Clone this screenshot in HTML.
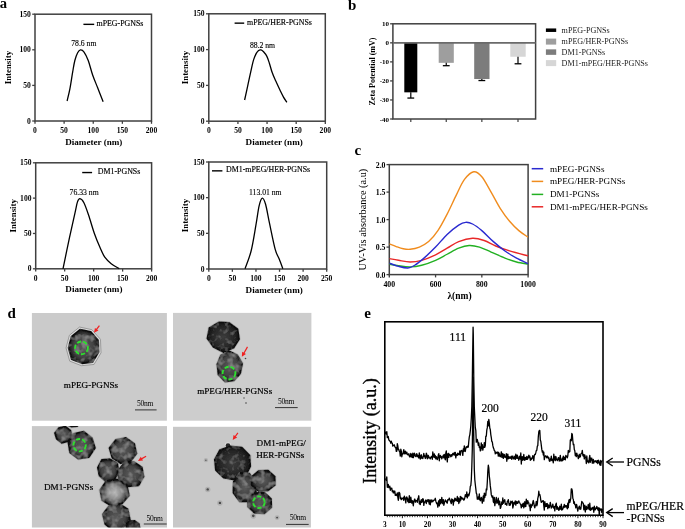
<!DOCTYPE html>
<html><head><meta charset="utf-8"><style>
html,body{margin:0;padding:0;background:#fff;}
svg{display:block;will-change:transform;}
</style></head><body>
<svg width="685" height="529" viewBox="0 0 685 529">
<rect width="685" height="529" fill="#fff"/>
<rect x="35" y="14.2" width="116.50" height="106.80" fill="none" stroke="#404040" stroke-width="1.5"/>
<line x1="32.20" y1="121.00" x2="35.00" y2="121.00" stroke="#404040" stroke-width="1.3"/>
<text x="30.80" y="123.60" font-size="7.6" font-family="'Liberation Serif', serif" font-weight="bold" text-anchor="end" fill="#000">0</text>
<line x1="32.20" y1="85.40" x2="35.00" y2="85.40" stroke="#404040" stroke-width="1.3"/>
<text x="30.80" y="88.00" font-size="7.6" font-family="'Liberation Serif', serif" font-weight="bold" text-anchor="end" fill="#000">50</text>
<line x1="32.20" y1="49.80" x2="35.00" y2="49.80" stroke="#404040" stroke-width="1.3"/>
<text x="30.80" y="52.40" font-size="7.6" font-family="'Liberation Serif', serif" font-weight="bold" text-anchor="end" fill="#000">100</text>
<line x1="32.20" y1="14.20" x2="35.00" y2="14.20" stroke="#404040" stroke-width="1.3"/>
<text x="30.80" y="16.80" font-size="7.6" font-family="'Liberation Serif', serif" font-weight="bold" text-anchor="end" fill="#000">150</text>
<line x1="35.00" y1="121.00" x2="35.00" y2="123.80" stroke="#404040" stroke-width="1.3"/>
<text x="35.00" y="133.00" font-size="7.6" font-family="'Liberation Serif', serif" font-weight="bold" text-anchor="middle" fill="#000">0</text>
<line x1="64.12" y1="121.00" x2="64.12" y2="123.80" stroke="#404040" stroke-width="1.3"/>
<text x="64.12" y="133.00" font-size="7.6" font-family="'Liberation Serif', serif" font-weight="bold" text-anchor="middle" fill="#000">50</text>
<line x1="93.25" y1="121.00" x2="93.25" y2="123.80" stroke="#404040" stroke-width="1.3"/>
<text x="93.25" y="133.00" font-size="7.6" font-family="'Liberation Serif', serif" font-weight="bold" text-anchor="middle" fill="#000">100</text>
<line x1="122.38" y1="121.00" x2="122.38" y2="123.80" stroke="#404040" stroke-width="1.3"/>
<text x="122.38" y="133.00" font-size="7.6" font-family="'Liberation Serif', serif" font-weight="bold" text-anchor="middle" fill="#000">150</text>
<line x1="151.50" y1="121.00" x2="151.50" y2="123.80" stroke="#404040" stroke-width="1.3"/>
<text x="151.50" y="133.00" font-size="7.6" font-family="'Liberation Serif', serif" font-weight="bold" text-anchor="middle" fill="#000">200</text>
<text x="10.90" y="67.60" font-size="8.85" font-family="'Liberation Serif', serif" font-weight="bold" text-anchor="middle" fill="#000" transform="rotate(-90 10.9 67.6)">Intensity</text>
<text x="93.80" y="144.60" font-size="9.1" font-family="'Liberation Serif', serif" font-weight="bold" text-anchor="middle" fill="#000">Diameter (nm)</text>
<path d="M67.10,100.99 C67.56,98.98 68.96,93.74 69.89,88.89 C70.82,84.04 71.86,76.61 72.69,71.87 C73.51,67.14 74.02,63.67 74.84,60.48 C75.67,57.29 76.71,54.49 77.64,52.72 C78.57,50.95 79.37,49.99 80.44,49.87 C81.50,49.75 82.75,50.24 84.05,52.01 C85.35,53.78 86.82,56.69 88.24,60.48 C89.66,64.27 91.00,70.21 92.55,74.72 C94.10,79.23 95.79,83.04 97.56,87.54 C99.33,92.03 102.22,99.34 103.15,101.70" fill="none" stroke="#000" stroke-width="1.3"/>
<line x1="83.40" y1="24.35" x2="94.20" y2="24.35" stroke="#000" stroke-width="1.4"/>
<text x="96.50" y="25.90" font-size="7.9" font-family="'Liberation Serif', serif" text-anchor="start" fill="#000" stroke="#000" stroke-width="0.15">mPEG-PGNSs</text>
<text x="83.80" y="46.30" font-size="7.7" font-family="'Liberation Serif', serif" text-anchor="middle" fill="#000" stroke="#000" stroke-width="0.12">78.6 nm</text>
<rect x="208.8" y="13.8" width="116.50" height="107.40" fill="none" stroke="#404040" stroke-width="1.5"/>
<line x1="206.00" y1="121.20" x2="208.80" y2="121.20" stroke="#404040" stroke-width="1.3"/>
<text x="204.60" y="123.80" font-size="7.6" font-family="'Liberation Serif', serif" font-weight="bold" text-anchor="end" fill="#000">0</text>
<line x1="206.00" y1="85.40" x2="208.80" y2="85.40" stroke="#404040" stroke-width="1.3"/>
<text x="204.60" y="88.00" font-size="7.6" font-family="'Liberation Serif', serif" font-weight="bold" text-anchor="end" fill="#000">50</text>
<line x1="206.00" y1="49.60" x2="208.80" y2="49.60" stroke="#404040" stroke-width="1.3"/>
<text x="204.60" y="52.20" font-size="7.6" font-family="'Liberation Serif', serif" font-weight="bold" text-anchor="end" fill="#000">100</text>
<line x1="206.00" y1="13.80" x2="208.80" y2="13.80" stroke="#404040" stroke-width="1.3"/>
<text x="204.60" y="16.40" font-size="7.6" font-family="'Liberation Serif', serif" font-weight="bold" text-anchor="end" fill="#000">150</text>
<line x1="208.80" y1="121.20" x2="208.80" y2="124.00" stroke="#404040" stroke-width="1.3"/>
<text x="208.80" y="133.20" font-size="7.6" font-family="'Liberation Serif', serif" font-weight="bold" text-anchor="middle" fill="#000">0</text>
<line x1="237.93" y1="121.20" x2="237.93" y2="124.00" stroke="#404040" stroke-width="1.3"/>
<text x="237.93" y="133.20" font-size="7.6" font-family="'Liberation Serif', serif" font-weight="bold" text-anchor="middle" fill="#000">50</text>
<line x1="267.05" y1="121.20" x2="267.05" y2="124.00" stroke="#404040" stroke-width="1.3"/>
<text x="267.05" y="133.20" font-size="7.6" font-family="'Liberation Serif', serif" font-weight="bold" text-anchor="middle" fill="#000">100</text>
<line x1="296.18" y1="121.20" x2="296.18" y2="124.00" stroke="#404040" stroke-width="1.3"/>
<text x="296.18" y="133.20" font-size="7.6" font-family="'Liberation Serif', serif" font-weight="bold" text-anchor="middle" fill="#000">150</text>
<line x1="325.30" y1="121.20" x2="325.30" y2="124.00" stroke="#404040" stroke-width="1.3"/>
<text x="325.30" y="133.20" font-size="7.6" font-family="'Liberation Serif', serif" font-weight="bold" text-anchor="middle" fill="#000">200</text>
<text x="188.40" y="67.50" font-size="8.85" font-family="'Liberation Serif', serif" font-weight="bold" text-anchor="middle" fill="#000" transform="rotate(-90 188.4 67.5)">Intensity</text>
<text x="274.20" y="144.80" font-size="9.1" font-family="'Liberation Serif', serif" font-weight="bold" text-anchor="middle" fill="#000">Diameter (nm)</text>
<path d="M244.62,100.01 C245.21,97.33 246.94,89.37 248.12,83.97 C249.29,78.56 250.75,71.63 251.67,67.57 C252.59,63.51 252.89,61.99 253.65,59.62 C254.42,57.26 255.50,54.89 256.27,53.39 C257.05,51.90 257.53,51.26 258.31,50.67 C259.10,50.09 260.12,49.71 260.99,49.89 C261.87,50.07 262.57,50.67 263.56,51.75 C264.54,52.82 265.90,54.42 266.88,56.33 C267.85,58.24 268.50,60.50 269.38,63.20 C270.26,65.91 271.11,69.60 272.18,72.58 C273.24,75.57 274.42,78.04 275.79,81.10 C277.16,84.17 279.13,88.36 280.39,90.98 C281.65,93.61 282.29,94.96 283.36,96.86 C284.43,98.75 286.22,101.45 286.80,102.37" fill="none" stroke="#000" stroke-width="1.3"/>
<line x1="234.60" y1="23.15" x2="244.20" y2="23.15" stroke="#000" stroke-width="1.4"/>
<text x="247.00" y="24.70" font-size="7.9" font-family="'Liberation Serif', serif" text-anchor="start" fill="#000" stroke="#000" stroke-width="0.15">mPEG/HER-PGNSs</text>
<text x="262.50" y="47.70" font-size="7.7" font-family="'Liberation Serif', serif" text-anchor="middle" fill="#000" stroke="#000" stroke-width="0.12">88.2 nm</text>
<rect x="35.7" y="162.8" width="115.90" height="106.00" fill="none" stroke="#404040" stroke-width="1.5"/>
<line x1="32.90" y1="268.80" x2="35.70" y2="268.80" stroke="#404040" stroke-width="1.3"/>
<text x="31.50" y="271.40" font-size="7.6" font-family="'Liberation Serif', serif" font-weight="bold" text-anchor="end" fill="#000">0</text>
<line x1="32.90" y1="233.47" x2="35.70" y2="233.47" stroke="#404040" stroke-width="1.3"/>
<text x="31.50" y="236.07" font-size="7.6" font-family="'Liberation Serif', serif" font-weight="bold" text-anchor="end" fill="#000">50</text>
<line x1="32.90" y1="198.13" x2="35.70" y2="198.13" stroke="#404040" stroke-width="1.3"/>
<text x="31.50" y="200.73" font-size="7.6" font-family="'Liberation Serif', serif" font-weight="bold" text-anchor="end" fill="#000">100</text>
<line x1="32.90" y1="162.80" x2="35.70" y2="162.80" stroke="#404040" stroke-width="1.3"/>
<text x="31.50" y="165.40" font-size="7.6" font-family="'Liberation Serif', serif" font-weight="bold" text-anchor="end" fill="#000">150</text>
<line x1="35.70" y1="268.80" x2="35.70" y2="271.60" stroke="#404040" stroke-width="1.3"/>
<text x="35.70" y="280.80" font-size="7.6" font-family="'Liberation Serif', serif" font-weight="bold" text-anchor="middle" fill="#000">0</text>
<line x1="64.67" y1="268.80" x2="64.67" y2="271.60" stroke="#404040" stroke-width="1.3"/>
<text x="64.67" y="280.80" font-size="7.6" font-family="'Liberation Serif', serif" font-weight="bold" text-anchor="middle" fill="#000">50</text>
<line x1="93.65" y1="268.80" x2="93.65" y2="271.60" stroke="#404040" stroke-width="1.3"/>
<text x="93.65" y="280.80" font-size="7.6" font-family="'Liberation Serif', serif" font-weight="bold" text-anchor="middle" fill="#000">100</text>
<line x1="122.62" y1="268.80" x2="122.62" y2="271.60" stroke="#404040" stroke-width="1.3"/>
<text x="122.62" y="280.80" font-size="7.6" font-family="'Liberation Serif', serif" font-weight="bold" text-anchor="middle" fill="#000">150</text>
<line x1="151.60" y1="268.80" x2="151.60" y2="271.60" stroke="#404040" stroke-width="1.3"/>
<text x="151.60" y="280.80" font-size="7.6" font-family="'Liberation Serif', serif" font-weight="bold" text-anchor="middle" fill="#000">200</text>
<text x="16.20" y="215.80" font-size="8.85" font-family="'Liberation Serif', serif" font-weight="bold" text-anchor="middle" fill="#000" transform="rotate(-90 16.2 215.8)">Intensity</text>
<text x="93.90" y="292.40" font-size="9.1" font-family="'Liberation Serif', serif" font-weight="bold" text-anchor="middle" fill="#000">Diameter (nm)</text>
<path d="M62.99,268.80 C64.07,263.66 67.41,247.41 69.43,237.99 C71.45,228.57 73.76,218.29 75.11,212.27 C76.45,206.25 76.68,204.15 77.48,201.88 C78.28,199.61 78.84,198.49 79.92,198.63 C80.99,198.77 82.45,199.91 83.91,202.73 C85.38,205.54 87.00,210.44 88.72,215.52 C90.45,220.59 92.40,227.84 94.29,233.18 C96.17,238.53 98.28,243.60 100.02,247.60 C101.77,251.60 102.91,254.53 104.78,257.21 C106.64,259.90 108.80,261.82 111.21,263.71 C113.61,265.61 117.87,267.78 119.21,268.59" fill="none" stroke="#000" stroke-width="1.3"/>
<line x1="82.20" y1="172.55" x2="92.10" y2="172.55" stroke="#000" stroke-width="1.4"/>
<text x="97.80" y="174.10" font-size="7.9" font-family="'Liberation Serif', serif" text-anchor="start" fill="#000" stroke="#000" stroke-width="0.15">DM1-PGNSs</text>
<text x="84.10" y="194.80" font-size="7.7" font-family="'Liberation Serif', serif" text-anchor="middle" fill="#000" stroke="#000" stroke-width="0.12">76.33 nm</text>
<rect x="208.8" y="162" width="117.90" height="107.00" fill="none" stroke="#404040" stroke-width="1.5"/>
<line x1="206.00" y1="269.00" x2="208.80" y2="269.00" stroke="#404040" stroke-width="1.3"/>
<text x="204.60" y="271.60" font-size="7.6" font-family="'Liberation Serif', serif" font-weight="bold" text-anchor="end" fill="#000">0</text>
<line x1="206.00" y1="233.33" x2="208.80" y2="233.33" stroke="#404040" stroke-width="1.3"/>
<text x="204.60" y="235.93" font-size="7.6" font-family="'Liberation Serif', serif" font-weight="bold" text-anchor="end" fill="#000">50</text>
<line x1="206.00" y1="197.67" x2="208.80" y2="197.67" stroke="#404040" stroke-width="1.3"/>
<text x="204.60" y="200.27" font-size="7.6" font-family="'Liberation Serif', serif" font-weight="bold" text-anchor="end" fill="#000">100</text>
<line x1="206.00" y1="162.00" x2="208.80" y2="162.00" stroke="#404040" stroke-width="1.3"/>
<text x="204.60" y="164.60" font-size="7.6" font-family="'Liberation Serif', serif" font-weight="bold" text-anchor="end" fill="#000">150</text>
<line x1="208.80" y1="269.00" x2="208.80" y2="271.80" stroke="#404040" stroke-width="1.3"/>
<text x="208.80" y="281.00" font-size="7.6" font-family="'Liberation Serif', serif" font-weight="bold" text-anchor="middle" fill="#000">0</text>
<line x1="232.38" y1="269.00" x2="232.38" y2="271.80" stroke="#404040" stroke-width="1.3"/>
<text x="232.38" y="281.00" font-size="7.6" font-family="'Liberation Serif', serif" font-weight="bold" text-anchor="middle" fill="#000">50</text>
<line x1="255.96" y1="269.00" x2="255.96" y2="271.80" stroke="#404040" stroke-width="1.3"/>
<text x="255.96" y="281.00" font-size="7.6" font-family="'Liberation Serif', serif" font-weight="bold" text-anchor="middle" fill="#000">100</text>
<line x1="279.54" y1="269.00" x2="279.54" y2="271.80" stroke="#404040" stroke-width="1.3"/>
<text x="279.54" y="281.00" font-size="7.6" font-family="'Liberation Serif', serif" font-weight="bold" text-anchor="middle" fill="#000">150</text>
<line x1="303.12" y1="269.00" x2="303.12" y2="271.80" stroke="#404040" stroke-width="1.3"/>
<text x="303.12" y="281.00" font-size="7.6" font-family="'Liberation Serif', serif" font-weight="bold" text-anchor="middle" fill="#000">200</text>
<line x1="326.70" y1="269.00" x2="326.70" y2="271.80" stroke="#404040" stroke-width="1.3"/>
<text x="326.70" y="281.00" font-size="7.6" font-family="'Liberation Serif', serif" font-weight="bold" text-anchor="middle" fill="#000">250</text>
<text x="188.20" y="215.50" font-size="8.85" font-family="'Liberation Serif', serif" font-weight="bold" text-anchor="middle" fill="#000" transform="rotate(-90 188.2 215.5)">Intensity</text>
<text x="274.20" y="292.60" font-size="9.1" font-family="'Liberation Serif', serif" font-weight="bold" text-anchor="middle" fill="#000">Diameter (nm)</text>
<path d="M245.02,268.79 C246.03,265.83 249.29,258.29 251.10,251.02 C252.92,243.76 254.58,232.73 255.91,225.20 C257.25,217.68 258.06,210.38 259.12,205.87 C260.18,201.36 261.20,198.43 262.28,198.17 C263.36,197.90 264.36,200.06 265.58,204.30 C266.80,208.55 267.99,216.13 269.59,223.63 C271.19,231.13 273.60,243.42 275.20,249.31 C276.80,255.21 277.93,255.77 279.21,259.01 C280.49,262.26 282.28,267.16 282.89,268.79" fill="none" stroke="#000" stroke-width="1.3"/>
<line x1="212.00" y1="170.85" x2="222.40" y2="170.85" stroke="#000" stroke-width="1.4"/>
<text x="226.00" y="172.40" font-size="7.9" font-family="'Liberation Serif', serif" text-anchor="start" fill="#000" stroke="#000" stroke-width="0.15">DM1-mPEG/HER-PGNSs</text>
<text x="265.30" y="195.30" font-size="7.7" font-family="'Liberation Serif', serif" text-anchor="middle" fill="#000" stroke="#000" stroke-width="0.12">113.01 nm</text>
<text x="-0.20" y="7.80" font-size="14.6" font-family="'Liberation Serif', serif" font-weight="bold" text-anchor="start" fill="#000">a</text>
<text x="347.90" y="10.10" font-size="15" font-family="'Liberation Serif', serif" font-weight="bold" text-anchor="start" fill="#000">b</text>
<rect x="392.9" y="23.8" width="142.70" height="95.20" fill="none" stroke="#404040" stroke-width="1.5"/>
<line x1="390.10" y1="23.80" x2="392.90" y2="23.80" stroke="#404040" stroke-width="1.3"/>
<text x="389.10" y="26.30" font-size="7" font-family="'Liberation Serif', serif" font-weight="bold" text-anchor="end" fill="#000">10</text>
<line x1="390.10" y1="42.84" x2="392.90" y2="42.84" stroke="#404040" stroke-width="1.3"/>
<text x="389.10" y="45.34" font-size="7" font-family="'Liberation Serif', serif" font-weight="bold" text-anchor="end" fill="#000">0</text>
<line x1="390.10" y1="61.88" x2="392.90" y2="61.88" stroke="#404040" stroke-width="1.3"/>
<text x="389.10" y="64.38" font-size="7" font-family="'Liberation Serif', serif" font-weight="bold" text-anchor="end" fill="#000">-10</text>
<line x1="390.10" y1="80.92" x2="392.90" y2="80.92" stroke="#404040" stroke-width="1.3"/>
<text x="389.10" y="83.42" font-size="7" font-family="'Liberation Serif', serif" font-weight="bold" text-anchor="end" fill="#000">-20</text>
<line x1="390.10" y1="99.96" x2="392.90" y2="99.96" stroke="#404040" stroke-width="1.3"/>
<text x="389.10" y="102.46" font-size="7" font-family="'Liberation Serif', serif" font-weight="bold" text-anchor="end" fill="#000">-30</text>
<line x1="390.10" y1="119.00" x2="392.90" y2="119.00" stroke="#404040" stroke-width="1.3"/>
<text x="389.10" y="121.50" font-size="7" font-family="'Liberation Serif', serif" font-weight="bold" text-anchor="end" fill="#000">-40</text>
<rect x="404.3" y="42.84" width="13.00" height="49.50" fill="#000"/>
<line x1="410.80" y1="92.34" x2="410.80" y2="98.06" stroke="#000" stroke-width="1.2"/>
<line x1="407.40" y1="98.06" x2="414.20" y2="98.06" stroke="#000" stroke-width="1.3"/>
<line x1="410.80" y1="119.00" x2="410.80" y2="122.00" stroke="#404040" stroke-width="1.2"/>
<rect x="438.7" y="42.84" width="15.10" height="19.99" fill="#9e9e9e"/>
<line x1="446.25" y1="62.83" x2="446.25" y2="65.69" stroke="#000" stroke-width="1.2"/>
<line x1="442.85" y1="65.69" x2="449.65" y2="65.69" stroke="#000" stroke-width="1.3"/>
<line x1="446.25" y1="119.00" x2="446.25" y2="122.00" stroke="#404040" stroke-width="1.2"/>
<rect x="474.2" y="42.84" width="15.30" height="36.18" fill="#7c7c7c"/>
<line x1="481.85" y1="79.02" x2="481.85" y2="80.54" stroke="#000" stroke-width="1.2"/>
<line x1="478.45" y1="80.54" x2="485.25" y2="80.54" stroke="#000" stroke-width="1.3"/>
<line x1="481.85" y1="119.00" x2="481.85" y2="122.00" stroke="#404040" stroke-width="1.2"/>
<rect x="510.3" y="42.84" width="15.40" height="13.90" fill="#d6d6d6"/>
<line x1="518.00" y1="56.74" x2="518.00" y2="63.78" stroke="#000" stroke-width="1.2"/>
<line x1="514.60" y1="63.78" x2="521.40" y2="63.78" stroke="#000" stroke-width="1.3"/>
<line x1="518.00" y1="119.00" x2="518.00" y2="122.00" stroke="#404040" stroke-width="1.2"/>
<line x1="392.90" y1="42.84" x2="535.60" y2="42.84" stroke="#6a6a6a" stroke-width="1.7"/>
<text x="375.00" y="71.50" font-size="8" font-family="'Liberation Serif', serif" font-weight="bold" text-anchor="middle" fill="#000" transform="rotate(-90 375.0 71.5)">Zeta Potential (mV)</text>
<rect x="545.9" y="28.45" width="10.3" height="3.5" fill="#000"/>
<text x="561.60" y="33.00" font-size="8.1" font-family="'Liberation Serif', serif" text-anchor="start" fill="#222">mPEG-PGNSs</text>
<rect x="545.9" y="38.60" width="10.3" height="6" fill="#9e9e9e"/>
<text x="561.60" y="44.40" font-size="8.1" font-family="'Liberation Serif', serif" text-anchor="start" fill="#222">mPEG/HER-PGNSs</text>
<rect x="545.9" y="49.35" width="10.3" height="5.5" fill="#7c7c7c"/>
<text x="561.60" y="54.90" font-size="8.1" font-family="'Liberation Serif', serif" text-anchor="start" fill="#222">DM1-PGNSs</text>
<rect x="545.9" y="60.10" width="10.3" height="6" fill="#d6d6d6"/>
<text x="561.60" y="65.90" font-size="8.1" font-family="'Liberation Serif', serif" text-anchor="start" fill="#222">DM1-mPEG/HER-PGNSs</text>
<text x="354.50" y="155.10" font-size="15" font-family="'Liberation Serif', serif" font-weight="bold" text-anchor="start" fill="#000">c</text>
<rect x="389.3" y="164.6" width="138.80" height="110.00" fill="none" stroke="#404040" stroke-width="1.5"/>
<line x1="386.50" y1="274.60" x2="389.30" y2="274.60" stroke="#404040" stroke-width="1.3"/>
<text x="385.50" y="277.80" font-size="7.8" font-family="'Liberation Serif', serif" font-weight="bold" text-anchor="end" fill="#000">0.0</text>
<line x1="386.50" y1="247.10" x2="389.30" y2="247.10" stroke="#404040" stroke-width="1.3"/>
<text x="385.50" y="250.30" font-size="7.8" font-family="'Liberation Serif', serif" font-weight="bold" text-anchor="end" fill="#000">0.5</text>
<line x1="386.50" y1="219.60" x2="389.30" y2="219.60" stroke="#404040" stroke-width="1.3"/>
<text x="385.50" y="222.80" font-size="7.8" font-family="'Liberation Serif', serif" font-weight="bold" text-anchor="end" fill="#000">1.0</text>
<line x1="386.50" y1="192.10" x2="389.30" y2="192.10" stroke="#404040" stroke-width="1.3"/>
<text x="385.50" y="195.30" font-size="7.8" font-family="'Liberation Serif', serif" font-weight="bold" text-anchor="end" fill="#000">1.5</text>
<line x1="386.50" y1="164.60" x2="389.30" y2="164.60" stroke="#404040" stroke-width="1.3"/>
<text x="385.50" y="167.80" font-size="7.8" font-family="'Liberation Serif', serif" font-weight="bold" text-anchor="end" fill="#000">2.0</text>
<line x1="389.30" y1="274.60" x2="389.30" y2="277.40" stroke="#404040" stroke-width="1.3"/>
<text x="389.30" y="287.00" font-size="7.8" font-family="'Liberation Serif', serif" font-weight="bold" text-anchor="middle" fill="#000">400</text>
<line x1="435.57" y1="274.60" x2="435.57" y2="277.40" stroke="#404040" stroke-width="1.3"/>
<text x="435.57" y="287.00" font-size="7.8" font-family="'Liberation Serif', serif" font-weight="bold" text-anchor="middle" fill="#000">600</text>
<line x1="481.83" y1="274.60" x2="481.83" y2="277.40" stroke="#404040" stroke-width="1.3"/>
<text x="481.83" y="287.00" font-size="7.8" font-family="'Liberation Serif', serif" font-weight="bold" text-anchor="middle" fill="#000">800</text>
<line x1="528.10" y1="274.60" x2="528.10" y2="277.40" stroke="#404040" stroke-width="1.3"/>
<text x="528.10" y="287.00" font-size="7.8" font-family="'Liberation Serif', serif" font-weight="bold" text-anchor="middle" fill="#000">1000</text>
<text x="366.00" y="219.60" font-size="10.3" font-family="'Liberation Serif', serif" text-anchor="middle" fill="#000" transform="rotate(-90 366 219.6)">UV-Vis absorbance (a.u)</text>
<text x="459.50" y="299.00" font-size="9.5" font-family="'Liberation Serif', serif" font-weight="bold" text-anchor="middle" fill="#000"><tspan font-weight="bold">λ</tspan>(nm)</text>
<clipPath id="cc"><rect x="389.3" y="164.6" width="138.8" height="110.00000000000003"/></clipPath>
<path d="M389.30,264.15 C390.84,264.43 395.08,265.34 398.55,265.80 C402.02,266.26 406.26,266.99 410.12,266.90 C413.98,266.81 417.45,266.35 421.69,265.25 C425.93,264.15 431.33,262.13 435.57,260.30 C439.81,258.47 443.28,256.27 447.13,254.25 C450.99,252.23 455.04,249.67 458.70,248.20 C462.36,246.73 465.64,245.63 469.11,245.45 C472.58,245.27 475.86,246.00 479.52,247.10 C483.18,248.20 486.85,250.22 491.09,252.05 C495.33,253.88 500.73,256.45 504.97,258.10 C509.21,259.75 512.68,260.94 516.53,261.95 C520.39,262.96 526.17,263.78 528.10,264.15" fill="none" stroke="#22b022" stroke-width="1.4" clip-path="url(#cc)"/>
<path d="M389.30,258.65 C390.84,258.93 395.08,259.75 398.55,260.30 C402.02,260.85 406.26,261.95 410.12,261.95 C413.98,261.95 417.45,261.49 421.69,260.30 C425.93,259.11 431.33,256.82 435.57,254.80 C439.81,252.78 443.28,250.40 447.13,248.20 C450.99,246.00 454.46,243.25 458.70,241.60 C462.94,239.95 468.34,238.48 472.58,238.30 C476.82,238.12 480.29,239.22 484.15,240.50 C488.00,241.78 491.47,244.26 495.71,246.00 C499.95,247.74 504.20,249.30 509.59,250.95 C514.99,252.60 525.02,255.08 528.10,255.90" fill="none" stroke="#e82828" stroke-width="1.4" clip-path="url(#cc)"/>
<path d="M389.30,263.05 C390.84,263.60 395.47,265.53 398.55,266.35 C401.64,267.18 405.11,268.18 407.81,268.00 C410.51,267.82 412.05,266.90 414.75,265.25 C417.45,263.60 420.53,261.12 424.00,258.10 C427.47,255.08 431.71,251.04 435.57,247.10 C439.42,243.16 443.28,238.12 447.13,234.45 C450.99,230.78 455.62,227.12 458.70,225.10 C461.78,223.08 463.33,222.53 465.64,222.35 C467.95,222.17 469.88,222.62 472.58,224.00 C475.28,225.38 478.36,227.67 481.83,230.60 C485.30,233.53 489.54,238.21 493.40,241.60 C497.26,244.99 501.11,248.20 504.97,250.95 C508.82,253.70 512.68,255.99 516.53,258.10 C520.39,260.21 526.17,262.68 528.10,263.60" fill="none" stroke="#2a2ad0" stroke-width="1.4" clip-path="url(#cc)"/>
<path d="M389.30,243.80 C390.46,244.26 393.93,245.73 396.24,246.55 C398.55,247.38 400.87,248.29 403.18,248.75 C405.49,249.21 407.42,249.58 410.12,249.30 C412.82,249.03 416.29,248.38 419.37,247.10 C422.46,245.82 425.54,244.35 428.63,241.60 C431.71,238.85 434.80,235.18 437.88,230.60 C440.96,226.02 444.05,220.06 447.13,214.10 C450.22,208.14 453.50,200.63 456.39,194.85 C459.28,189.08 461.59,183.30 464.48,179.45 C467.38,175.60 470.85,172.21 473.74,171.75 C476.63,171.29 478.94,173.31 481.83,176.70 C484.73,180.09 488.00,186.78 491.09,192.10 C494.17,197.42 497.26,203.74 500.34,208.60 C503.42,213.46 506.51,217.58 509.59,221.25 C512.68,224.92 515.76,227.94 518.85,230.60 C521.93,233.26 526.56,236.10 528.10,237.20" fill="none" stroke="#f08c1e" stroke-width="1.4" clip-path="url(#cc)"/>
<line x1="531.70" y1="168.70" x2="543.20" y2="168.70" stroke="#2a2ad0" stroke-width="1.5"/>
<text x="549.90" y="171.70" font-size="9.2" font-family="'Liberation Serif', serif" text-anchor="start" fill="#000">mPEG-PGNSs</text>
<line x1="531.70" y1="181.40" x2="543.20" y2="181.40" stroke="#f08c1e" stroke-width="1.5"/>
<text x="549.90" y="184.40" font-size="9.2" font-family="'Liberation Serif', serif" text-anchor="start" fill="#000">mPEG/HER-PGNSs</text>
<line x1="531.70" y1="194.40" x2="543.20" y2="194.40" stroke="#22b022" stroke-width="1.5"/>
<text x="549.90" y="197.40" font-size="9.2" font-family="'Liberation Serif', serif" text-anchor="start" fill="#000">DM1-PGNSs</text>
<line x1="531.70" y1="206.80" x2="543.20" y2="206.80" stroke="#e82828" stroke-width="1.5"/>
<text x="549.90" y="209.80" font-size="9.2" font-family="'Liberation Serif', serif" text-anchor="start" fill="#000">DM1-mPEG/HER-PGNSs</text>
<text x="7.60" y="317.90" font-size="15" font-family="'Liberation Serif', serif" font-weight="bold" text-anchor="start" fill="#000">d</text>
<filter id="bgn" x="0" y="0" width="1" height="1"><feTurbulence type="fractalNoise" baseFrequency="0.6" numOctaves="1" seed="5"/><feColorMatrix type="matrix" values="0 0 0 0 0  0 0 0 0 0  0 0 0 0 0  0.12 0 0 0 -0.03"/><feComposite in2="SourceAlpha" operator="in"/><feMerge><feMergeNode in="SourceGraphic"/><feMergeNode/></feMerge></filter>
<clipPath id="ti0"><rect x="31.9" y="313.0" width="135.00" height="107.70"/></clipPath>
<rect x="31.9" y="313.0" width="135.00" height="107.70" fill="#cbcbcb"/>
<clipPath id="ti1"><rect x="173.0" y="312.9" width="138.40" height="107.80"/></clipPath>
<rect x="173.0" y="312.9" width="138.40" height="107.80" fill="#cdcdcd"/>
<clipPath id="ti2"><rect x="31.9" y="426.1" width="135.10" height="101.40"/></clipPath>
<rect x="31.9" y="426.1" width="135.10" height="101.40" fill="#c8c8c8"/>
<clipPath id="ti3"><rect x="173.0" y="426.8" width="137.90" height="100.70"/></clipPath>
<rect x="173.0" y="426.8" width="137.90" height="100.70" fill="#c8c8c8"/>
<filter id="mot" x="-10%" y="-10%" width="120%" height="120%"><feTurbulence type="fractalNoise" baseFrequency="0.17" numOctaves="2" seed="11" result="n"/><feColorMatrix in="n" type="matrix" values="0 0 0 0 1  0 0 0 0 1  0 0 0 0 1  0.45 0 0 0 -0.2" result="w"/><feComposite in="w" in2="SourceAlpha" operator="in" result="wm"/><feMerge><feMergeNode in="SourceGraphic"/><feMergeNode in="wm"/></feMerge></filter>
<filter id="mot2" x="-10%" y="-10%" width="120%" height="120%"><feTurbulence type="fractalNoise" baseFrequency="0.2" numOctaves="2" seed="21" result="n"/><feColorMatrix in="n" type="matrix" values="0 0 0 0 1  0 0 0 0 1  0 0 0 0 1  0.3 0 0 0 -0.15" result="w"/><feComposite in="w" in2="SourceAlpha" operator="in" result="wm"/><feMerge><feMergeNode in="SourceGraphic"/><feMergeNode in="wm"/></feMerge></filter>
<radialGradient id="pg" cx="50%" cy="50%" r="50%"><stop offset="0" stop-color="#3c3c3c"/><stop offset="0.7" stop-color="#262626"/><stop offset="1" stop-color="#141414"/></radialGradient>
<radialGradient id="pg2" cx="50%" cy="50%" r="50%"><stop offset="0" stop-color="#b8b8b8"/><stop offset="0.5" stop-color="#8c8c8c"/><stop offset="0.8" stop-color="#4a4a4a"/><stop offset="1" stop-color="#1a1a1a"/></radialGradient>
<radialGradient id="pg3" cx="50%" cy="50%" r="50%"><stop offset="0" stop-color="#5a5a5a"/><stop offset="0.65" stop-color="#434343"/><stop offset="0.86" stop-color="#2a2a2a"/><stop offset="1" stop-color="#141414"/></radialGradient>
<path d="M101.02,352.83 L94.04,364.45 L81.53,365.71 L69.71,361.11 L66.03,347.94 L69.41,335.20 L79.53,327.04 L91.88,329.67 L100.48,339.32 Z" fill="#dadada" stroke="#8c8c8c" stroke-width="0.8" stroke-linejoin="round" clip-path="url(#ti0)"/>
<g clip-path="url(#ti0)"><path d="M98.53,352.06 L92.55,362.15 L81.84,363.24 L71.72,359.25 L68.57,347.82 L71.47,336.76 L80.13,329.67 L90.71,331.96 L98.07,340.33 Z" fill="url(#pg3)" stroke="#111" stroke-width="1.8" stroke-linejoin="round" filter="url(#mot)"/></g>
<circle cx="81.5" cy="347.9" r="6.4" fill="none" stroke="#2ee02e" stroke-width="1.9" stroke-dasharray="4.2 2"/>
<line x1="99.40" y1="325.60" x2="95.80" y2="330.40" stroke="#f02020" stroke-width="1.2"/>
<path d="M94.00,332.80 L98.46,330.52 L94.94,327.88 Z" fill="#f02020"/>
<text x="91.00" y="387.70" font-size="9.15" font-family="'Liberation Serif', serif" text-anchor="middle" fill="#000" stroke="#000" stroke-width="0.2">mPEG-PGNSs</text>
<text x="145.00" y="405.50" font-size="7.5" font-family="'Liberation Serif', serif" text-anchor="middle" fill="#000" letter-spacing="-0.3">50nm</text>
<line x1="135.00" y1="409.90" x2="156.60" y2="409.90" stroke="#333" stroke-width="1.0"/>
<path d="M240.28,339.37 L234.30,348.74 L223.23,353.42 L212.78,347.86 L206.15,338.68 L208.29,327.31 L218.38,321.24 L229.70,321.80 L238.59,328.56 Z" fill="#dadada" stroke="#a5a5a5" stroke-width="0.6" stroke-linejoin="round" clip-path="url(#ti1)"/>
<path d="M241.18,374.23 L234.36,381.65 L224.79,382.80 L217.35,375.31 L216.12,364.21 L220.21,354.22 L229.07,350.04 L237.85,354.08 L243.45,363.26 Z" fill="#dadada" stroke="#a5a5a5" stroke-width="0.6" stroke-linejoin="round" clip-path="url(#ti1)"/>
<g clip-path="url(#ti1)"><path d="M239.05,339.12 L233.51,347.75 L223.27,352.06 L213.59,346.94 L207.46,338.49 L209.44,328.01 L218.77,322.42 L229.26,322.93 L237.48,329.17 Z" fill="url(#pg)" stroke="#111" stroke-width="1.8" stroke-linejoin="round" filter="url(#mot2)"/></g>
<g clip-path="url(#ti1)"><path d="M240.08,373.63 L233.90,380.47 L225.22,381.53 L218.47,374.63 L217.35,364.39 L221.07,355.19 L229.10,351.34 L237.06,355.06 L242.14,363.52 Z" fill="url(#pg3)" stroke="#111" stroke-width="1.8" stroke-linejoin="round" filter="url(#mot)"/></g>
<circle cx="229" cy="373.1" r="6.4" fill="none" stroke="#2ee02e" stroke-width="1.9" stroke-dasharray="4.2 2"/>
<line x1="247.50" y1="346.90" x2="243.30" y2="354.20" stroke="#f02020" stroke-width="1.2"/>
<path d="M241.80,356.80 L245.95,354.00 L242.14,351.80 Z" fill="#f02020"/>
<text x="234.70" y="394.40" font-size="9.15" font-family="'Liberation Serif', serif" text-anchor="middle" fill="#000" stroke="#000" stroke-width="0.2">mPEG/HER-PGNSs</text>
<text x="286.00" y="403.80" font-size="7.5" font-family="'Liberation Serif', serif" text-anchor="middle" fill="#000" letter-spacing="-0.3">50nm</text>
<line x1="275.00" y1="407.60" x2="297.70" y2="407.60" stroke="#333" stroke-width="1.0"/>
<circle cx="245.5" cy="358.5" r="0.8" fill="#444"/>
<circle cx="244" cy="398" r="0.7" fill="#444"/>
<circle cx="246" cy="403" r="0.8" fill="#444"/>
<path d="M81.69,422.86 L77.82,427.12 L71.34,427.84 L65.80,425.19 L64.25,420.13 L68.42,416.16 L74.83,414.54 L80.65,417.58 Z" fill="#dadada" stroke="#a5a5a5" stroke-width="0.6" stroke-linejoin="round" clip-path="url(#ti2)"/>
<path d="M73.72,436.52 L68.98,442.28 L61.42,444.13 L55.66,439.43 L53.67,432.75 L58.11,427.05 L65.54,425.26 L71.43,429.72 Z" fill="#dadada" stroke="#a5a5a5" stroke-width="0.6" stroke-linejoin="round" clip-path="url(#ti2)"/>
<path d="M96.24,448.21 L89.64,458.15 L78.13,459.93 L69.00,453.23 L67.28,442.26 L72.98,432.69 L84.03,430.46 L92.84,437.21 Z" fill="#dadada" stroke="#a5a5a5" stroke-width="0.6" stroke-linejoin="round" clip-path="url(#ti2)"/>
<path d="M137.67,453.63 L131.22,462.41 L120.45,464.50 L111.31,458.53 L108.15,447.81 L115.10,438.78 L126.26,436.59 L135.22,443.11 Z" fill="#dadada" stroke="#a5a5a5" stroke-width="0.6" stroke-linejoin="round" clip-path="url(#ti2)"/>
<path d="M119.84,472.38 L114.89,480.98 L105.56,482.76 L98.41,476.64 L96.62,467.32 L101.13,458.65 L110.22,458.00 L118.30,462.45 Z" fill="#dadada" stroke="#a5a5a5" stroke-width="0.6" stroke-linejoin="round" clip-path="url(#ti2)"/>
<path d="M144.82,476.92 L139.38,486.55 L128.08,487.62 L118.40,482.20 L116.06,471.30 L122.99,462.68 L133.76,460.58 L142.80,466.58 Z" fill="#dadada" stroke="#a5a5a5" stroke-width="0.6" stroke-linejoin="round" clip-path="url(#ti2)"/>
<path d="M130.16,495.81 L122.69,504.58 L111.30,507.19 L101.14,501.08 L98.92,489.84 L105.47,480.11 L117.59,477.97 L127.88,484.39 Z" fill="#dadada" stroke="#a5a5a5" stroke-width="0.6" stroke-linejoin="round" clip-path="url(#ti2)"/>
<path d="M131.20,520.08 L123.84,528.82 L112.96,531.97 L104.26,524.78 L101.57,514.08 L108.23,505.28 L118.99,502.27 L128.75,508.54 Z" fill="#dadada" stroke="#a5a5a5" stroke-width="0.6" stroke-linejoin="round" clip-path="url(#ti2)"/>
<path d="M140.96,529.11 L137.70,534.58 L131.29,535.93 L126.32,531.93 L125.02,525.88 L128.06,520.05 L134.60,519.60 L139.77,523.01 Z" fill="#dadada" stroke="#a5a5a5" stroke-width="0.6" stroke-linejoin="round" clip-path="url(#ti2)"/>
<g clip-path="url(#ti2)"><path d="M80.41,422.60 L77.11,426.05 L71.58,426.63 L66.86,424.48 L65.54,420.39 L69.09,417.18 L74.56,415.87 L79.52,418.33 Z" fill="url(#pg)" stroke="#111" stroke-width="1.8" stroke-linejoin="round" filter="url(#mot2)"/></g>
<g clip-path="url(#ti2)"><path d="M72.38,436.25 L68.26,441.19 L61.69,442.79 L56.69,438.75 L54.96,433.01 L58.82,428.11 L65.27,426.58 L70.39,430.41 Z" fill="url(#pg3)" stroke="#111" stroke-width="1.8" stroke-linejoin="round" filter="url(#mot)"/></g>
<g clip-path="url(#ti2)"><path d="M94.92,447.94 L88.89,457.03 L78.39,458.65 L70.06,452.53 L68.48,442.51 L73.69,433.76 L83.77,431.72 L91.82,437.89 Z" fill="url(#pg3)" stroke="#111" stroke-width="1.8" stroke-linejoin="round" filter="url(#mot)"/></g>
<g clip-path="url(#ti2)"><path d="M136.39,453.37 L130.51,461.35 L120.70,463.24 L112.38,457.82 L109.50,448.09 L115.83,439.88 L126.00,437.89 L134.16,443.82 Z" fill="url(#pg3)" stroke="#111" stroke-width="1.8" stroke-linejoin="round" filter="url(#mot)"/></g>
<g clip-path="url(#ti2)"><path d="M118.54,472.12 L114.14,479.84 L105.82,481.44 L99.46,475.94 L97.86,467.57 L101.88,459.79 L109.98,459.20 L117.18,463.20 Z" fill="url(#pg3)" stroke="#111" stroke-width="1.8" stroke-linejoin="round" filter="url(#mot)"/></g>
<g clip-path="url(#ti2)"><path d="M143.57,476.67 L138.62,485.40 L128.33,486.38 L119.52,481.46 L117.39,471.56 L123.70,463.75 L133.50,461.85 L141.73,467.29 Z" fill="url(#pg3)" stroke="#111" stroke-width="1.8" stroke-linejoin="round" filter="url(#mot)"/></g>
<g clip-path="url(#ti2)"><path d="M128.83,495.54 L121.99,503.52 L111.56,505.90 L102.26,500.34 L100.22,490.11 L106.22,481.25 L117.32,479.30 L126.74,485.14 Z" fill="url(#pg2)" stroke="#111" stroke-width="1.8" stroke-linejoin="round" filter="url(#mot)"/></g>
<g clip-path="url(#ti2)"><path d="M129.85,519.81 L123.14,527.78 L113.23,530.65 L105.30,524.09 L102.85,514.33 L108.92,506.32 L118.72,503.57 L127.63,509.29 Z" fill="url(#pg3)" stroke="#111" stroke-width="1.8" stroke-linejoin="round" filter="url(#mot)"/></g>
<g clip-path="url(#ti2)"><path d="M139.74,528.87 L136.98,533.50 L131.55,534.64 L127.34,531.25 L126.24,526.13 L128.82,521.19 L134.36,520.81 L138.73,523.70 Z" fill="url(#pg)" stroke="#111" stroke-width="1.8" stroke-linejoin="round" filter="url(#mot2)"/></g>
<circle cx="79.6" cy="445.2" r="6.2" fill="none" stroke="#2ee02e" stroke-width="1.9" stroke-dasharray="4.2 2"/>
<line x1="146.10" y1="456.20" x2="140.59" y2="459.39" stroke="#f02020" stroke-width="1.2"/>
<path d="M138.00,460.90 L143.00,460.54 L140.79,456.74 Z" fill="#f02020"/>
<text x="68.60" y="490.00" font-size="9.15" font-family="'Liberation Serif', serif" text-anchor="middle" fill="#000" stroke="#000" stroke-width="0.2">DM1-PGNSs</text>
<text x="154.50" y="520.60" font-size="7.5" font-family="'Liberation Serif', serif" text-anchor="middle" fill="#000" letter-spacing="-0.3">50nm</text>
<line x1="143.80" y1="524.00" x2="166.70" y2="524.00" stroke="#333" stroke-width="1.0"/>
<circle cx="207.7" cy="489.4" r="2.74" fill="#b0b0b0"/><circle cx="207.7" cy="489.4" r="1.2000000000000002" fill="#4a4a4a"/>
<circle cx="219.9" cy="502.9" r="2.74" fill="#b0b0b0"/><circle cx="219.9" cy="502.9" r="1.2000000000000002" fill="#4a4a4a"/>
<circle cx="253.3" cy="515.8" r="2.92" fill="#b0b0b0"/><circle cx="253.3" cy="515.8" r="1.35" fill="#4a4a4a"/>
<circle cx="277.1" cy="517.6" r="2.47" fill="#b0b0b0"/><circle cx="277.1" cy="517.6" r="0.9750000000000001" fill="#4a4a4a"/>
<circle cx="205.9" cy="460.2" r="2.1100000000000003" fill="#b0b0b0"/><circle cx="205.9" cy="460.2" r="0.675" fill="#4a4a4a"/>
<circle cx="228" cy="445.5" r="3.3" fill="#d9d9d9"/>
<path d="M251.47,466.61 L246.24,477.06 L234.70,480.98 L223.03,478.75 L214.77,470.60 L213.56,459.39 L219.02,449.21 L230.32,445.12 L242.46,446.45 L250.87,455.12 Z" fill="#dadada" stroke="#a5a5a5" stroke-width="0.6" stroke-linejoin="round" clip-path="url(#ti3)"/>
<path d="M257.19,493.70 L249.62,502.65 L239.02,502.49 L232.28,493.11 L232.58,481.20 L239.14,471.61 L249.68,472.20 L256.20,481.45 Z" fill="#dadada" stroke="#a5a5a5" stroke-width="0.6" stroke-linejoin="round" clip-path="url(#ti3)"/>
<path d="M276.05,485.63 L268.27,491.77 L257.98,492.08 L250.44,485.47 L250.78,476.06 L258.24,469.63 L268.66,469.46 L275.99,476.19 Z" fill="#dadada" stroke="#a5a5a5" stroke-width="0.6" stroke-linejoin="round" clip-path="url(#ti3)"/>
<path d="M272.54,507.84 L264.83,514.66 L254.03,514.06 L247.02,507.38 L246.41,498.22 L254.32,492.09 L264.97,491.52 L272.17,498.48 Z" fill="#dadada" stroke="#a5a5a5" stroke-width="0.6" stroke-linejoin="round" clip-path="url(#ti3)"/>
<circle cx="228" cy="445.5" r="2.3" fill="#262626"/>
<g clip-path="url(#ti3)"><path d="M250.22,466.36 L245.33,476.07 L234.55,479.72 L223.65,477.64 L215.94,470.07 L214.81,459.65 L219.91,450.18 L230.46,446.37 L241.80,447.61 L249.66,455.68 Z" fill="url(#pg)" stroke="#111" stroke-width="1.8" stroke-linejoin="round" filter="url(#mot2)"/></g>
<g clip-path="url(#ti3)"><path d="M255.95,493.17 L249.11,501.40 L239.54,501.26 L233.46,492.63 L233.73,481.68 L239.65,472.87 L249.17,473.41 L255.05,481.91 Z" fill="url(#pg3)" stroke="#111" stroke-width="1.8" stroke-linejoin="round" filter="url(#mot)"/></g>
<g clip-path="url(#ti3)"><path d="M274.81,485.10 L267.79,490.58 L258.49,490.86 L251.68,484.97 L252.00,476.57 L258.73,470.84 L268.14,470.69 L274.75,476.69 Z" fill="url(#pg3)" stroke="#111" stroke-width="1.8" stroke-linejoin="round" filter="url(#mot)"/></g>
<g clip-path="url(#ti3)"><path d="M271.32,507.33 L264.33,513.42 L254.53,512.88 L248.17,506.91 L247.62,498.72 L254.79,493.26 L264.45,492.74 L270.99,498.97 Z" fill="url(#pg3)" stroke="#111" stroke-width="1.8" stroke-linejoin="round" filter="url(#mot)"/></g>
<circle cx="258.9" cy="502.2" r="5.8" fill="none" stroke="#2ee02e" stroke-width="1.9" stroke-dasharray="4.2 2"/>
<line x1="237.90" y1="432.80" x2="234.47" y2="437.48" stroke="#f02020" stroke-width="1.2"/>
<path d="M232.70,439.90 L237.13,437.57 L233.58,434.97 Z" fill="#f02020"/>
<text x="281.20" y="445.70" font-size="9.15" font-family="'Liberation Serif', serif" text-anchor="middle" fill="#000" stroke="#000" stroke-width="0.2">DM1-mPEG/</text>
<text x="280.30" y="458.00" font-size="9.15" font-family="'Liberation Serif', serif" text-anchor="middle" fill="#000" stroke="#000" stroke-width="0.2">HER-PGNSs</text>
<text x="297.80" y="519.60" font-size="7.5" font-family="'Liberation Serif', serif" text-anchor="middle" fill="#000" letter-spacing="-0.3">50nm</text>
<line x1="286.00" y1="524.40" x2="308.70" y2="524.40" stroke="#333" stroke-width="1.0"/>
<text x="364.20" y="317.80" font-size="15" font-family="'Liberation Serif', serif" font-weight="bold" text-anchor="start" fill="#000">e</text>
<path d="M385.30,431.54 L385.80,433.88 L386.30,434.03 L386.80,431.61 L387.30,437.58 L387.80,437.63 L388.30,436.48 L388.80,439.90 L389.30,440.34 L389.80,441.05 L390.30,441.29 L390.80,443.22 L391.30,441.14 L391.80,443.11 L392.30,443.09 L392.80,446.11 L393.30,445.49 L393.80,445.34 L394.30,444.82 L394.80,446.50 L395.30,447.59 L395.80,447.44 L396.30,451.35 L396.80,451.15 L397.30,443.62 L397.80,445.58 L398.30,449.72 L398.80,449.53 L399.30,451.26 L399.80,451.59 L400.30,456.07 L400.80,449.26 L401.30,451.15 L401.80,456.73 L402.30,453.91 L402.80,454.18 L403.30,451.82 L403.80,449.54 L404.30,453.73 L404.80,453.80 L405.30,451.04 L405.80,452.42 L406.30,453.93 L406.80,452.16 L407.30,454.18 L407.80,454.74 L408.30,454.75 L408.80,453.69 L409.30,456.23 L409.80,457.00 L410.30,455.85 L410.80,453.45 L411.30,456.96 L411.80,454.35 L412.30,457.47 L412.80,453.27 L413.30,457.72 L413.80,455.74 L414.30,453.11 L414.80,455.23 L415.30,456.11 L415.80,456.65 L416.30,453.95 L416.80,453.73 L417.30,456.66 L417.80,455.24 L418.30,456.84 L418.80,458.04 L419.30,452.78 L419.80,457.01 L420.30,459.18 L420.80,455.87 L421.30,454.77 L421.80,458.24 L422.30,457.18 L422.80,458.62 L423.30,455.91 L423.80,453.44 L424.30,456.48 L424.80,455.76 L425.30,458.47 L425.80,457.21 L426.30,453.22 L426.80,454.19 L427.30,458.78 L427.80,458.35 L428.30,455.46 L428.80,456.87 L429.30,457.87 L429.80,457.93 L430.30,458.84 L430.80,457.48 L431.30,456.72 L431.80,456.36 L432.30,459.26 L432.80,451.99 L433.30,456.64 L433.80,457.02 L434.30,453.82 L434.80,457.69 L435.30,455.52 L435.80,458.85 L436.30,456.68 L436.80,458.42 L437.30,459.63 L437.80,457.79 L438.30,455.02 L438.80,453.61 L439.30,460.79 L439.80,456.68 L440.30,455.41 L440.80,457.23 L441.30,456.48 L441.80,458.77 L442.30,456.96 L442.80,456.87 L443.30,455.21 L443.80,457.75 L444.30,454.38 L444.80,458.06 L445.30,459.88 L445.80,453.10 L446.30,450.96 L446.80,457.68 L447.30,461.85 L447.80,453.97 L448.30,453.35 L448.80,457.32 L449.30,454.10 L449.80,454.76 L450.30,455.02 L450.80,456.88 L451.30,454.73 L451.80,456.14 L452.30,455.05 L452.80,453.49 L453.30,454.54 L453.80,453.06 L454.30,455.06 L454.80,452.46 L455.30,452.41 L455.80,457.90 L456.30,454.45 L456.80,454.32 L457.30,455.43 L457.80,453.23 L458.30,453.49 L458.80,454.76 L459.30,454.27 L459.80,450.90 L460.30,455.08 L460.80,451.72 L461.30,450.45 L461.80,450.52 L462.30,451.35 L462.80,455.45 L463.30,448.92 L463.80,451.45 L464.30,445.92 L464.80,450.09 L465.30,451.46 L465.80,448.26 L466.30,446.57 L466.80,447.50 L467.30,447.38 L467.80,445.93 L468.30,447.14 L468.80,441.23 L469.30,436.94 L469.80,434.82 L470.30,430.90 L470.80,425.99 L471.30,418.20 L471.80,406.74 L472.30,379.98 L472.80,344.19 L473.08,327.13 L473.30,334.45 L473.80,380.40 L474.30,406.67 L474.80,417.51 L475.30,427.48 L475.80,430.40 L476.30,442.13 L476.80,441.38 L477.30,439.29 L477.80,441.93 L478.30,445.29 L478.80,442.80 L479.30,447.45 L479.80,446.70 L480.30,450.85 L480.80,450.53 L481.30,442.78 L481.80,448.52 L482.30,444.61 L482.80,450.17 L483.30,447.43 L483.80,447.34 L484.30,442.56 L484.80,447.30 L485.30,445.64 L485.80,436.24 L486.30,436.19 L486.80,430.17 L487.30,427.64 L487.80,421.34 L488.30,425.93 L488.80,419.42 L489.30,422.81 L489.80,428.03 L490.30,429.64 L490.80,434.61 L491.30,437.53 L491.80,441.54 L492.30,441.78 L492.80,445.44 L493.30,447.61 L493.80,448.68 L494.30,450.66 L494.80,450.81 L495.30,453.88 L495.80,452.16 L496.30,453.12 L496.80,452.43 L497.30,453.14 L497.80,451.87 L498.30,456.10 L498.80,452.72 L499.30,453.84 L499.80,456.49 L500.30,456.77 L500.80,455.18 L501.30,451.78 L501.80,457.29 L502.30,457.07 L502.80,453.51 L503.30,458.43 L503.80,455.29 L504.30,454.45 L504.80,457.23 L505.30,456.71 L505.80,457.63 L506.30,453.72 L506.80,461.31 L507.30,456.06 L507.80,454.06 L508.30,458.87 L508.80,456.78 L509.30,458.33 L509.80,456.92 L510.30,457.58 L510.80,458.30 L511.30,456.16 L511.80,459.34 L512.30,456.85 L512.80,456.01 L513.30,458.13 L513.80,458.97 L514.30,457.52 L514.80,456.16 L515.30,459.45 L515.80,454.24 L516.30,455.87 L516.80,458.26 L517.30,455.20 L517.80,458.28 L518.30,458.12 L518.80,460.24 L519.30,456.27 L519.80,456.92 L520.30,459.05 L520.80,452.93 L521.30,464.07 L521.80,456.82 L522.30,456.77 L522.80,460.28 L523.30,458.30 L523.80,454.48 L524.30,459.78 L524.80,460.28 L525.30,457.40 L525.80,457.77 L526.30,459.44 L526.80,456.36 L527.30,459.30 L527.80,458.75 L528.30,456.80 L528.80,455.18 L529.30,457.69 L529.80,456.20 L530.30,460.25 L530.80,458.27 L531.30,459.56 L531.80,457.99 L532.30,458.10 L532.80,455.58 L533.30,458.49 L533.80,460.60 L534.30,455.53 L534.80,454.31 L535.30,454.47 L535.80,452.66 L536.30,450.65 L536.80,450.32 L537.30,446.26 L537.80,445.66 L538.30,436.77 L538.80,431.70 L539.30,430.47 L539.80,430.44 L540.30,440.10 L540.80,441.29 L541.30,445.32 L541.80,449.43 L542.30,452.17 L542.80,450.89 L543.30,455.02 L543.80,452.26 L544.30,459.62 L544.80,456.87 L545.30,456.02 L545.80,455.74 L546.30,457.14 L546.80,457.71 L547.30,456.07 L547.80,456.49 L548.30,458.23 L548.80,457.60 L549.30,460.90 L549.80,461.42 L550.30,459.02 L550.80,460.09 L551.30,456.16 L551.80,460.55 L552.30,459.12 L552.80,460.29 L553.30,462.77 L553.80,454.26 L554.30,459.87 L554.80,456.89 L555.30,460.62 L555.80,456.44 L556.30,458.24 L556.80,459.77 L557.30,460.67 L557.80,459.47 L558.30,457.54 L558.80,458.04 L559.30,461.17 L559.80,459.17 L560.30,455.43 L560.80,460.93 L561.30,459.91 L561.80,460.83 L562.30,458.06 L562.80,460.50 L563.30,456.19 L563.80,459.60 L564.30,457.04 L564.80,459.34 L565.30,459.75 L565.80,455.52 L566.30,456.54 L566.80,456.13 L567.30,457.90 L567.80,455.87 L568.30,450.39 L568.80,452.48 L569.30,451.08 L569.80,451.56 L570.30,440.16 L570.80,439.43 L571.30,440.75 L571.80,433.44 L572.30,434.39 L572.80,440.48 L573.30,444.72 L573.80,444.15 L574.30,449.52 L574.80,450.78 L575.30,455.56 L575.80,453.51 L576.30,456.66 L576.80,453.20 L577.30,455.28 L577.80,455.78 L578.30,458.64 L578.80,457.39 L579.30,454.27 L579.80,457.07 L580.30,456.77 L580.80,454.26 L581.30,453.46 L581.80,453.41 L582.30,450.35 L582.80,455.13 L583.30,456.08 L583.80,454.52 L584.30,458.84 L584.80,454.84 L585.30,457.18 L585.80,457.78 L586.30,463.55 L586.80,455.95 L587.30,460.95 L587.80,461.98 L588.30,460.91 L588.80,462.83 L589.30,458.15 L589.80,455.45 L590.30,462.26 L590.80,458.03 L591.30,460.02 L591.80,458.22 L592.30,463.20 L592.80,462.85 L593.30,459.42 L593.80,463.04 L594.30,461.37 L594.80,460.85 L595.30,461.33 L595.80,460.80 L596.30,462.64 L596.80,462.01 L597.30,460.59 L597.80,463.61 L598.30,460.09 L598.80,462.10 L599.30,462.43 L599.80,464.78 L600.30,460.45 L600.80,465.42 L601.30,462.01 L601.80,461.22 L602.30,460.20" fill="none" stroke="#000" stroke-width="1.3" stroke-linejoin="round"/>
<path d="M385.30,479.56 L385.80,479.10 L386.30,480.40 L386.80,476.94 L387.30,487.23 L387.80,486.69 L388.30,484.33 L388.80,487.57 L389.30,487.27 L389.80,486.17 L390.30,490.25 L390.80,488.09 L391.30,488.69 L391.80,488.28 L392.30,491.61 L392.80,490.94 L393.30,492.88 L393.80,490.85 L394.30,492.94 L394.80,491.15 L395.30,495.39 L395.80,494.36 L396.30,495.07 L396.80,495.61 L397.30,492.84 L397.80,497.12 L398.30,500.24 L398.80,492.42 L399.30,492.50 L399.80,493.27 L400.30,498.70 L400.80,497.38 L401.30,499.70 L401.80,499.14 L402.30,498.23 L402.80,498.60 L403.30,497.79 L403.80,500.26 L404.30,496.04 L404.80,497.76 L405.30,499.38 L405.80,502.96 L406.30,497.46 L406.80,496.91 L407.30,498.17 L407.80,501.66 L408.30,499.13 L408.80,502.67 L409.30,495.75 L409.80,502.45 L410.30,502.34 L410.80,497.03 L411.30,500.58 L411.80,503.00 L412.30,500.60 L412.80,502.68 L413.30,505.77 L413.80,501.22 L414.30,500.06 L414.80,499.04 L415.30,502.22 L415.80,500.42 L416.30,500.51 L416.80,500.72 L417.30,502.43 L417.80,498.70 L418.30,497.72 L418.80,495.77 L419.30,503.80 L419.80,501.37 L420.30,504.56 L420.80,501.25 L421.30,499.67 L421.80,502.38 L422.30,501.19 L422.80,498.63 L423.30,499.46 L423.80,505.32 L424.30,502.24 L424.80,502.39 L425.30,500.89 L425.80,500.00 L426.30,503.50 L426.80,501.32 L427.30,499.90 L427.80,501.29 L428.30,499.61 L428.80,502.03 L429.30,504.11 L429.80,499.80 L430.30,504.79 L430.80,500.19 L431.30,502.01 L431.80,499.84 L432.30,501.20 L432.80,501.80 L433.30,500.75 L433.80,500.16 L434.30,500.22 L434.80,499.91 L435.30,498.27 L435.80,501.15 L436.30,502.62 L436.80,503.74 L437.30,503.17 L437.80,507.15 L438.30,502.45 L438.80,500.75 L439.30,505.87 L439.80,499.45 L440.30,503.88 L440.80,499.65 L441.30,502.53 L441.80,497.42 L442.30,503.73 L442.80,501.37 L443.30,499.54 L443.80,505.31 L444.30,503.25 L444.80,501.61 L445.30,499.82 L445.80,501.31 L446.30,500.99 L446.80,502.89 L447.30,503.00 L447.80,499.72 L448.30,499.92 L448.80,499.90 L449.30,498.04 L449.80,499.65 L450.30,500.69 L450.80,502.36 L451.30,503.68 L451.80,498.94 L452.30,501.86 L452.80,499.61 L453.30,505.09 L453.80,500.35 L454.30,501.49 L454.80,498.26 L455.30,498.47 L455.80,500.62 L456.30,499.26 L456.80,500.80 L457.30,496.51 L457.80,501.32 L458.30,497.80 L458.80,503.48 L459.30,498.96 L459.80,501.91 L460.30,496.33 L460.80,500.23 L461.30,497.21 L461.80,497.97 L462.30,498.96 L462.80,498.06 L463.30,499.18 L463.80,500.06 L464.30,499.66 L464.80,497.80 L465.30,494.74 L465.80,495.67 L466.30,496.67 L466.80,492.02 L467.30,497.85 L467.80,495.06 L468.30,494.28 L468.80,495.95 L469.30,494.07 L469.80,491.38 L470.30,486.29 L470.80,485.64 L471.30,480.05 L471.80,467.05 L472.30,449.03 L472.80,400.69 L473.08,377.28 L473.30,393.17 L473.80,439.19 L474.30,469.31 L474.80,479.77 L475.30,484.54 L475.80,488.67 L476.30,493.25 L476.80,494.17 L477.30,499.25 L477.80,498.41 L478.30,496.84 L478.80,499.24 L479.30,493.88 L479.80,499.31 L480.30,500.73 L480.80,498.55 L481.30,497.43 L481.80,500.21 L482.30,503.17 L482.80,499.12 L483.30,495.90 L483.80,501.11 L484.30,493.17 L484.80,497.52 L485.30,493.87 L485.80,495.39 L486.30,488.86 L486.80,489.86 L487.30,482.32 L487.80,471.35 L488.30,465.19 L488.80,467.89 L489.30,476.01 L489.80,480.15 L490.30,485.93 L490.80,489.65 L491.30,494.88 L491.80,496.27 L492.30,497.61 L492.80,495.97 L493.30,501.62 L493.80,502.67 L494.30,497.33 L494.80,505.67 L495.30,502.55 L495.80,500.17 L496.30,497.30 L496.80,503.14 L497.30,503.10 L497.80,500.72 L498.30,498.24 L498.80,504.78 L499.30,501.12 L499.80,501.48 L500.30,508.34 L500.80,507.39 L501.30,504.88 L501.80,501.86 L502.30,504.36 L502.80,497.98 L503.30,503.30 L503.80,501.46 L504.30,500.36 L504.80,499.76 L505.30,504.46 L505.80,503.55 L506.30,503.76 L506.80,505.31 L507.30,501.64 L507.80,500.83 L508.30,499.69 L508.80,502.90 L509.30,505.36 L509.80,503.40 L510.30,505.18 L510.80,501.21 L511.30,502.82 L511.80,502.21 L512.30,501.18 L512.80,508.06 L513.30,505.88 L513.80,502.37 L514.30,502.40 L514.80,503.99 L515.30,500.98 L515.80,505.15 L516.30,501.38 L516.80,503.45 L517.30,502.04 L517.80,503.28 L518.30,501.44 L518.80,500.94 L519.30,502.31 L519.80,502.97 L520.30,503.85 L520.80,504.68 L521.30,507.92 L521.80,506.38 L522.30,504.06 L522.80,506.24 L523.30,503.16 L523.80,507.89 L524.30,505.94 L524.80,501.77 L525.30,506.44 L525.80,506.60 L526.30,499.11 L526.80,503.20 L527.30,503.83 L527.80,500.65 L528.30,502.56 L528.80,502.83 L529.30,506.04 L529.80,505.59 L530.30,510.65 L530.80,504.06 L531.30,507.45 L531.80,505.07 L532.30,505.46 L532.80,502.26 L533.30,500.54 L533.80,502.97 L534.30,506.20 L534.80,507.83 L535.30,505.42 L535.80,504.83 L536.30,501.35 L536.80,505.78 L537.30,504.14 L537.80,498.14 L538.30,496.47 L538.80,491.22 L539.30,495.07 L539.80,494.42 L540.30,496.55 L540.80,500.44 L541.30,502.44 L541.80,501.84 L542.30,500.86 L542.80,501.36 L543.30,500.79 L543.80,505.94 L544.30,510.05 L544.80,501.62 L545.30,505.82 L545.80,506.55 L546.30,503.59 L546.80,506.31 L547.30,503.53 L547.80,508.66 L548.30,504.78 L548.80,506.37 L549.30,507.71 L549.80,505.31 L550.30,502.37 L550.80,505.19 L551.30,508.08 L551.80,506.26 L552.30,506.99 L552.80,504.14 L553.30,506.87 L553.80,508.20 L554.30,506.71 L554.80,510.86 L555.30,506.24 L555.80,504.44 L556.30,503.20 L556.80,509.32 L557.30,506.69 L557.80,509.07 L558.30,507.87 L558.80,510.46 L559.30,509.70 L559.80,506.10 L560.30,507.55 L560.80,509.35 L561.30,504.25 L561.80,510.17 L562.30,509.65 L562.80,509.14 L563.30,506.53 L563.80,507.62 L564.30,504.47 L564.80,507.02 L565.30,505.54 L565.80,506.95 L566.30,505.57 L566.80,507.13 L567.30,508.90 L567.80,503.15 L568.30,507.67 L568.80,500.66 L569.30,499.41 L569.80,502.52 L570.30,500.59 L570.80,498.07 L571.30,488.78 L571.80,488.87 L572.30,490.94 L572.80,498.15 L573.30,499.27 L573.80,503.37 L574.30,501.77 L574.80,504.60 L575.30,504.76 L575.80,507.79 L576.30,504.42 L576.80,505.00 L577.30,508.27 L577.80,511.05 L578.30,507.99 L578.80,507.79 L579.30,506.23 L579.80,509.13 L580.30,507.43 L580.80,509.24 L581.30,504.99 L581.80,501.28 L582.30,502.51 L582.80,502.88 L583.30,503.45 L583.80,509.76 L584.30,509.26 L584.80,505.10 L585.30,511.98 L585.80,508.78 L586.30,506.28 L586.80,509.34 L587.30,508.43 L587.80,506.97 L588.30,504.46 L588.80,508.88 L589.30,509.50 L589.80,503.24 L590.30,510.19 L590.80,510.37 L591.30,508.03 L591.80,509.35 L592.30,508.53 L592.80,507.35 L593.30,508.44 L593.80,512.24 L594.30,506.12 L594.80,509.87 L595.30,509.79 L595.80,507.87 L596.30,508.49 L596.80,506.42 L597.30,507.66 L597.80,509.60 L598.30,510.32 L598.80,507.66 L599.30,515.40 L599.80,508.46 L600.30,510.03 L600.80,509.27 L601.30,508.94 L601.80,512.71 L602.30,508.83" fill="none" stroke="#000" stroke-width="1.3" stroke-linejoin="round"/>
<rect x="384.8" y="321.8" width="218.20" height="193.40" fill="none" stroke="#000" stroke-width="1.6"/>
<line x1="387.31" y1="515.20" x2="387.31" y2="517.20" stroke="#000" stroke-width="0.75"/>
<line x1="389.82" y1="515.20" x2="389.82" y2="517.20" stroke="#000" stroke-width="0.75"/>
<line x1="392.32" y1="515.20" x2="392.32" y2="517.20" stroke="#000" stroke-width="0.75"/>
<line x1="394.83" y1="515.20" x2="394.83" y2="517.20" stroke="#000" stroke-width="0.75"/>
<line x1="397.34" y1="515.20" x2="397.34" y2="517.20" stroke="#000" stroke-width="0.75"/>
<line x1="399.85" y1="515.20" x2="399.85" y2="517.20" stroke="#000" stroke-width="0.75"/>
<line x1="402.36" y1="515.20" x2="402.36" y2="518.20" stroke="#000" stroke-width="0.9"/>
<line x1="404.86" y1="515.20" x2="404.86" y2="517.20" stroke="#000" stroke-width="0.75"/>
<line x1="407.37" y1="515.20" x2="407.37" y2="517.20" stroke="#000" stroke-width="0.75"/>
<line x1="409.88" y1="515.20" x2="409.88" y2="517.20" stroke="#000" stroke-width="0.75"/>
<line x1="412.39" y1="515.20" x2="412.39" y2="517.20" stroke="#000" stroke-width="0.75"/>
<line x1="414.90" y1="515.20" x2="414.90" y2="517.20" stroke="#000" stroke-width="0.75"/>
<line x1="417.40" y1="515.20" x2="417.40" y2="517.20" stroke="#000" stroke-width="0.75"/>
<line x1="419.91" y1="515.20" x2="419.91" y2="517.20" stroke="#000" stroke-width="0.75"/>
<line x1="422.42" y1="515.20" x2="422.42" y2="517.20" stroke="#000" stroke-width="0.75"/>
<line x1="424.93" y1="515.20" x2="424.93" y2="517.20" stroke="#000" stroke-width="0.75"/>
<line x1="427.44" y1="515.20" x2="427.44" y2="518.20" stroke="#000" stroke-width="0.9"/>
<line x1="429.94" y1="515.20" x2="429.94" y2="517.20" stroke="#000" stroke-width="0.75"/>
<line x1="432.45" y1="515.20" x2="432.45" y2="517.20" stroke="#000" stroke-width="0.75"/>
<line x1="434.96" y1="515.20" x2="434.96" y2="517.20" stroke="#000" stroke-width="0.75"/>
<line x1="437.47" y1="515.20" x2="437.47" y2="517.20" stroke="#000" stroke-width="0.75"/>
<line x1="439.98" y1="515.20" x2="439.98" y2="517.20" stroke="#000" stroke-width="0.75"/>
<line x1="442.49" y1="515.20" x2="442.49" y2="517.20" stroke="#000" stroke-width="0.75"/>
<line x1="444.99" y1="515.20" x2="444.99" y2="517.20" stroke="#000" stroke-width="0.75"/>
<line x1="447.50" y1="515.20" x2="447.50" y2="517.20" stroke="#000" stroke-width="0.75"/>
<line x1="450.01" y1="515.20" x2="450.01" y2="517.20" stroke="#000" stroke-width="0.75"/>
<line x1="452.52" y1="515.20" x2="452.52" y2="518.20" stroke="#000" stroke-width="0.9"/>
<line x1="455.03" y1="515.20" x2="455.03" y2="517.20" stroke="#000" stroke-width="0.75"/>
<line x1="457.53" y1="515.20" x2="457.53" y2="517.20" stroke="#000" stroke-width="0.75"/>
<line x1="460.04" y1="515.20" x2="460.04" y2="517.20" stroke="#000" stroke-width="0.75"/>
<line x1="462.55" y1="515.20" x2="462.55" y2="517.20" stroke="#000" stroke-width="0.75"/>
<line x1="465.06" y1="515.20" x2="465.06" y2="517.20" stroke="#000" stroke-width="0.75"/>
<line x1="467.57" y1="515.20" x2="467.57" y2="517.20" stroke="#000" stroke-width="0.75"/>
<line x1="470.07" y1="515.20" x2="470.07" y2="517.20" stroke="#000" stroke-width="0.75"/>
<line x1="472.58" y1="515.20" x2="472.58" y2="517.20" stroke="#000" stroke-width="0.75"/>
<line x1="475.09" y1="515.20" x2="475.09" y2="517.20" stroke="#000" stroke-width="0.75"/>
<line x1="477.60" y1="515.20" x2="477.60" y2="518.20" stroke="#000" stroke-width="0.9"/>
<line x1="480.11" y1="515.20" x2="480.11" y2="517.20" stroke="#000" stroke-width="0.75"/>
<line x1="482.61" y1="515.20" x2="482.61" y2="517.20" stroke="#000" stroke-width="0.75"/>
<line x1="485.12" y1="515.20" x2="485.12" y2="517.20" stroke="#000" stroke-width="0.75"/>
<line x1="487.63" y1="515.20" x2="487.63" y2="517.20" stroke="#000" stroke-width="0.75"/>
<line x1="490.14" y1="515.20" x2="490.14" y2="517.20" stroke="#000" stroke-width="0.75"/>
<line x1="492.65" y1="515.20" x2="492.65" y2="517.20" stroke="#000" stroke-width="0.75"/>
<line x1="495.15" y1="515.20" x2="495.15" y2="517.20" stroke="#000" stroke-width="0.75"/>
<line x1="497.66" y1="515.20" x2="497.66" y2="517.20" stroke="#000" stroke-width="0.75"/>
<line x1="500.17" y1="515.20" x2="500.17" y2="517.20" stroke="#000" stroke-width="0.75"/>
<line x1="502.68" y1="515.20" x2="502.68" y2="518.20" stroke="#000" stroke-width="0.9"/>
<line x1="505.19" y1="515.20" x2="505.19" y2="517.20" stroke="#000" stroke-width="0.75"/>
<line x1="507.69" y1="515.20" x2="507.69" y2="517.20" stroke="#000" stroke-width="0.75"/>
<line x1="510.20" y1="515.20" x2="510.20" y2="517.20" stroke="#000" stroke-width="0.75"/>
<line x1="512.71" y1="515.20" x2="512.71" y2="517.20" stroke="#000" stroke-width="0.75"/>
<line x1="515.22" y1="515.20" x2="515.22" y2="517.20" stroke="#000" stroke-width="0.75"/>
<line x1="517.73" y1="515.20" x2="517.73" y2="517.20" stroke="#000" stroke-width="0.75"/>
<line x1="520.23" y1="515.20" x2="520.23" y2="517.20" stroke="#000" stroke-width="0.75"/>
<line x1="522.74" y1="515.20" x2="522.74" y2="517.20" stroke="#000" stroke-width="0.75"/>
<line x1="525.25" y1="515.20" x2="525.25" y2="517.20" stroke="#000" stroke-width="0.75"/>
<line x1="527.76" y1="515.20" x2="527.76" y2="518.20" stroke="#000" stroke-width="0.9"/>
<line x1="530.27" y1="515.20" x2="530.27" y2="517.20" stroke="#000" stroke-width="0.75"/>
<line x1="532.77" y1="515.20" x2="532.77" y2="517.20" stroke="#000" stroke-width="0.75"/>
<line x1="535.28" y1="515.20" x2="535.28" y2="517.20" stroke="#000" stroke-width="0.75"/>
<line x1="537.79" y1="515.20" x2="537.79" y2="517.20" stroke="#000" stroke-width="0.75"/>
<line x1="540.30" y1="515.20" x2="540.30" y2="517.20" stroke="#000" stroke-width="0.75"/>
<line x1="542.81" y1="515.20" x2="542.81" y2="517.20" stroke="#000" stroke-width="0.75"/>
<line x1="545.31" y1="515.20" x2="545.31" y2="517.20" stroke="#000" stroke-width="0.75"/>
<line x1="547.82" y1="515.20" x2="547.82" y2="517.20" stroke="#000" stroke-width="0.75"/>
<line x1="550.33" y1="515.20" x2="550.33" y2="517.20" stroke="#000" stroke-width="0.75"/>
<line x1="552.84" y1="515.20" x2="552.84" y2="518.20" stroke="#000" stroke-width="0.9"/>
<line x1="555.35" y1="515.20" x2="555.35" y2="517.20" stroke="#000" stroke-width="0.75"/>
<line x1="557.86" y1="515.20" x2="557.86" y2="517.20" stroke="#000" stroke-width="0.75"/>
<line x1="560.36" y1="515.20" x2="560.36" y2="517.20" stroke="#000" stroke-width="0.75"/>
<line x1="562.87" y1="515.20" x2="562.87" y2="517.20" stroke="#000" stroke-width="0.75"/>
<line x1="565.38" y1="515.20" x2="565.38" y2="517.20" stroke="#000" stroke-width="0.75"/>
<line x1="567.89" y1="515.20" x2="567.89" y2="517.20" stroke="#000" stroke-width="0.75"/>
<line x1="570.40" y1="515.20" x2="570.40" y2="517.20" stroke="#000" stroke-width="0.75"/>
<line x1="572.90" y1="515.20" x2="572.90" y2="517.20" stroke="#000" stroke-width="0.75"/>
<line x1="575.41" y1="515.20" x2="575.41" y2="517.20" stroke="#000" stroke-width="0.75"/>
<line x1="577.92" y1="515.20" x2="577.92" y2="518.20" stroke="#000" stroke-width="0.9"/>
<line x1="580.43" y1="515.20" x2="580.43" y2="517.20" stroke="#000" stroke-width="0.75"/>
<line x1="582.94" y1="515.20" x2="582.94" y2="517.20" stroke="#000" stroke-width="0.75"/>
<line x1="585.44" y1="515.20" x2="585.44" y2="517.20" stroke="#000" stroke-width="0.75"/>
<line x1="587.95" y1="515.20" x2="587.95" y2="517.20" stroke="#000" stroke-width="0.75"/>
<line x1="590.46" y1="515.20" x2="590.46" y2="517.20" stroke="#000" stroke-width="0.75"/>
<line x1="592.97" y1="515.20" x2="592.97" y2="517.20" stroke="#000" stroke-width="0.75"/>
<line x1="595.48" y1="515.20" x2="595.48" y2="517.20" stroke="#000" stroke-width="0.75"/>
<line x1="597.98" y1="515.20" x2="597.98" y2="517.20" stroke="#000" stroke-width="0.75"/>
<line x1="600.49" y1="515.20" x2="600.49" y2="517.20" stroke="#000" stroke-width="0.75"/>
<line x1="603.00" y1="515.20" x2="603.00" y2="518.20" stroke="#000" stroke-width="0.9"/>
<text x="384.80" y="526.60" font-size="7.3" font-family="'Liberation Serif', serif" font-weight="bold" text-anchor="middle" fill="#000">3</text>
<text x="402.36" y="526.60" font-size="7.3" font-family="'Liberation Serif', serif" font-weight="bold" text-anchor="middle" fill="#000">10</text>
<text x="427.44" y="526.60" font-size="7.3" font-family="'Liberation Serif', serif" font-weight="bold" text-anchor="middle" fill="#000">20</text>
<text x="452.52" y="526.60" font-size="7.3" font-family="'Liberation Serif', serif" font-weight="bold" text-anchor="middle" fill="#000">30</text>
<text x="477.60" y="526.60" font-size="7.3" font-family="'Liberation Serif', serif" font-weight="bold" text-anchor="middle" fill="#000">40</text>
<text x="502.68" y="526.60" font-size="7.3" font-family="'Liberation Serif', serif" font-weight="bold" text-anchor="middle" fill="#000">50</text>
<text x="527.76" y="526.60" font-size="7.3" font-family="'Liberation Serif', serif" font-weight="bold" text-anchor="middle" fill="#000">60</text>
<text x="552.84" y="526.60" font-size="7.3" font-family="'Liberation Serif', serif" font-weight="bold" text-anchor="middle" fill="#000">70</text>
<text x="577.92" y="526.60" font-size="7.3" font-family="'Liberation Serif', serif" font-weight="bold" text-anchor="middle" fill="#000">80</text>
<text x="603.00" y="526.60" font-size="7.3" font-family="'Liberation Serif', serif" font-weight="bold" text-anchor="middle" fill="#000">90</text>
<text x="376.00" y="431.00" font-size="18" font-family="'Liberation Serif', serif" text-anchor="middle" fill="#000" transform="rotate(-90 376 431)" stroke="#000" stroke-width="0.35">Intensity (a.u.)</text>
<text x="457.80" y="340.60" font-size="11.5" font-family="'Liberation Serif', serif" text-anchor="middle" fill="#000" stroke="#000" stroke-width="0.2">111</text>
<text x="490.00" y="412.00" font-size="11.5" font-family="'Liberation Serif', serif" text-anchor="middle" fill="#000" stroke="#000" stroke-width="0.2">200</text>
<text x="539.00" y="421.40" font-size="11.5" font-family="'Liberation Serif', serif" text-anchor="middle" fill="#000" stroke="#000" stroke-width="0.2">220</text>
<text x="572.80" y="427.40" font-size="11.5" font-family="'Liberation Serif', serif" text-anchor="middle" fill="#000" stroke="#000" stroke-width="0.2">311</text>
<line x1="607.70" y1="462.00" x2="624.00" y2="462.00" stroke="#000" stroke-width="1.3"/>
<path d="M612.7,458.0 L606.7,462.0 L612.7,466.0" fill="none" stroke="#000" stroke-width="1.3"/>
<line x1="607.70" y1="512.60" x2="624.00" y2="512.60" stroke="#000" stroke-width="1.3"/>
<path d="M612.7,508.6 L606.7,512.6 L612.7,516.6" fill="none" stroke="#000" stroke-width="1.3"/>
<text x="626.60" y="466.10" font-size="11.6" font-family="'Liberation Serif', serif" text-anchor="start" fill="#000" stroke="#000" stroke-width="0.2">PGNSs</text>
<text x="626.60" y="510.00" font-size="11.6" font-family="'Liberation Serif', serif" text-anchor="start" fill="#000" stroke="#000" stroke-width="0.2">mPEG/HER</text>
<text x="626.60" y="521.70" font-size="11.6" font-family="'Liberation Serif', serif" text-anchor="start" fill="#000" stroke="#000" stroke-width="0.2">-PGNSs</text>
</svg>
</body></html>
